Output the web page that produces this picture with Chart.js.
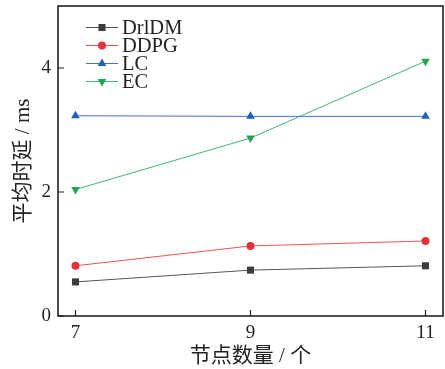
<!DOCTYPE html>
<html><head><meta charset="utf-8">
<script src="https://cdn.jsdelivr.net/npm/chart.js@4/dist/chart.umd.min.js"></script>
<style>html,body{margin:0;padding:0;background:#fff}#wrap{width:445px;height:369px}</style>
</head><body><div id="wrap"><canvas id="c" width="445" height="369"></canvas></div>
<script>
const nodes = [7, 9, 11];
const drlDM = [0.55, 0.74, 0.81];
const ddpg = [0.81, 1.13, 1.21];
const lc = [3.23, 3.22, 3.22];
const ec = [2.04, 2.87, 4.11];
const yTicks = [0, 2, 4];
const seriesNames = ['DrlDM', 'DDPG', 'LC', 'EC'];

const serif = "'Liberation Serif','Noto Sans CJK SC',serif";
const ink = '#222';

function ds(label, vals, line, mark, style, rot) {
  return {
    label, data: nodes.map((x, i) => ({x, y: vals[i]})),
    borderColor: line, backgroundColor: mark, pointBackgroundColor: mark,
    pointBorderColor: mark, borderWidth: 1, pointStyle: style, pointRotation: rot || 0,
    pointRadius: style === 'circle' ? 4 : 5, pointBorderWidth: 0,
    tension: 0
  };
}

const fixRight = {
  id: 'fixRight',
  afterLayout(chart) {
    const R = 443;
    const x = chart.scales.x;
    x.right = R; x.width = R - x.left; x.configure();
    const a = chart.chartArea; a.right = R; a.width = R - a.left;
  }
};

const frame = {
  id: 'frame',
  afterDraw(chart) {
    const ctx = chart.ctx, a = chart.chartArea;
    const xs = chart.scales.x, ys = chart.scales.y;
    ctx.save();
    ctx.strokeStyle = '#222';
    ctx.lineWidth = 1.6;
    ctx.strokeRect(a.left, a.top, a.right - a.left, a.bottom - a.top);
    ctx.lineWidth = 1.2;
    ctx.beginPath();
    nodes.forEach(v => { const p = xs.getPixelForValue(v); ctx.moveTo(p, a.bottom); ctx.lineTo(p, a.bottom - 6); });
    yTicks.forEach(v => { const p = ys.getPixelForValue(v); ctx.moveTo(a.left, p); ctx.lineTo(a.left + 6, p); });
    ctx.stroke();
    // legend
    chart.data.datasets.forEach((d, i) => {
      const y = 27.5 + 18 * i;
      ctx.strokeStyle = d.borderColor; ctx.lineWidth = 1;
      ctx.beginPath(); ctx.moveTo(86, y); ctx.lineTo(118, y); ctx.stroke();
      ctx.fillStyle = d.pointBackgroundColor;
      Chart.helpers.drawPoint(ctx, {pointStyle: d.pointStyle, rotation: d.pointRotation, radius: d.pointRadius, borderWidth: 0}, 102, y);
      ctx.fillStyle = ink;
      ctx.font = "20.5px " + serif;
      ctx.textBaseline = 'middle';
      ctx.fillText(seriesNames[i], 122, y + 1);
    });
    ctx.restore();
  }
};

new Chart(document.getElementById('c'), {
  type: 'line',
  data: {
    datasets: [
      ds(seriesNames[0], drlDM, '#555555', '#3c3c3c', 'rect'),
      ds(seriesNames[1], ddpg, '#f05050', '#e8303a', 'circle'),
      ds(seriesNames[2], lc, '#3a74d0', '#1f5fc0', 'triangle'),
      ds(seriesNames[3], ec, '#40b870', '#22a552', 'triangle', 180)
    ]
  },
  options: {
    responsive: false, animation: false, devicePixelRatio: 1,
    layout: {padding: {left: 0, right: 0, top: 6, bottom: 0}},
    plugins: {legend: {display: false}, tooltip: {enabled: false}},
    scales: {
      x: {
        type: 'linear', min: 6.8, max: 11.2,
        afterBuildTicks: s => { s.ticks = nodes.map(v => ({value: v})); },
        afterFit: s => { s.height = 53; s.paddingLeft = 0; s.paddingRight = 0; },
        grid: {display: false, drawTicks: false},
        border: {display: false},
        ticks: {color: ink, font: {family: serif, size: 19}, padding: 6, maxRotation: 0},
        title: {display: true, text: '节点数量 / 个', color: ink, font: {family: serif, size: 21}, padding: {top: 3, bottom: 0}}
      },
      y: {
        min: 0, max: 5,
        afterBuildTicks: s => { s.ticks = yTicks.map(v => ({value: v})); },
        afterFit: s => { s.width = 58; s.paddingTop = 0; s.paddingBottom = 0; },
        grid: {display: false, drawTicks: false},
        border: {display: false},
        ticks: {color: ink, font: {family: serif, size: 19}, padding: 7},
        title: {display: true, text: '平均时延 / ms', color: ink, font: {family: serif, size: 21}, padding: {top: 11, bottom: 0}}
      }
    }
  },
  plugins: [fixRight, frame]
});
</script></body></html>
